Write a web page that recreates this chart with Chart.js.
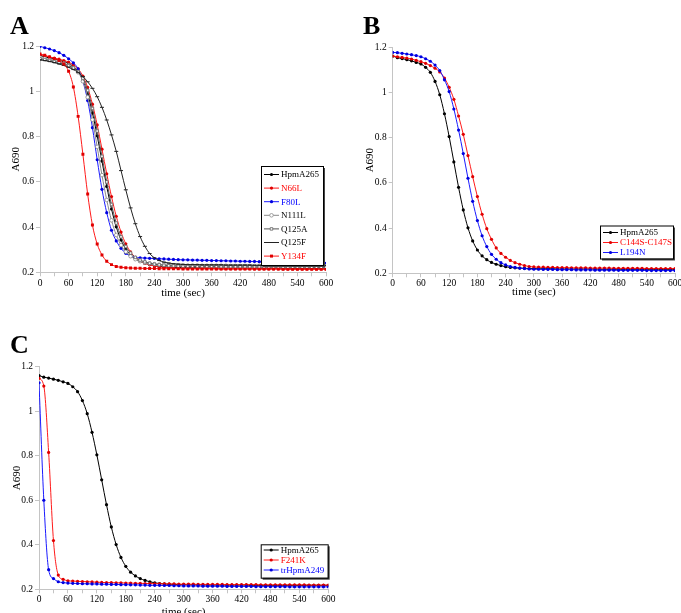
<!DOCTYPE html>
<html><head><meta charset="utf-8">
<script src="https://cdn.jsdelivr.net/npm/chart.js@4.4.1/dist/chart.umd.min.js"></script>
<style>
html,body{margin:0;padding:0;background:#fff;width:681px;height:613px;overflow:hidden;position:relative;}
.panel{position:absolute;}
.letter{position:absolute;font-family:"Liberation Serif","Times New Roman",serif;font-weight:bold;font-size:26px;line-height:26px;color:#000;}
</style></head><body>
<div class="panel" style="left:0;top:0;width:340px;height:300px"><canvas id="cA"></canvas></div>
<div class="panel" style="left:340px;top:0;width:360px;height:300px"><canvas id="cB"></canvas></div>
<div class="panel" style="left:0;top:300px;width:340px;height:330px"><canvas id="cC"></canvas></div>
<div class="letter" style="left:10px;top:13px">A</div>
<div class="letter" style="left:363px;top:13px">B</div>
<div class="letter" style="left:10px;top:332px">C</div>
<script>
const times = [0,10,20,30,40,50,60,70,80,90,100,110,120,130,140,150,160,170,180,190,200,210,220,230,240,250,260,270,280,290,300,310,320,330,340,350,360,370,380,390,400,410,420,430,440,450,460,470,480,490,500,510,520,530,540,550,560,570,580,590,600];
const xTickLabels = [0,60,120,180,240,300,360,420,480,540,600];
const yTickLabels = ['0.2','0.4','0.6','0.8','1','1.2'];

const hpmA265 = [1.160,1.153,1.149,1.144,1.139,1.132,1.125,1.110,1.088,1.048,0.989,0.905,0.804,0.692,0.580,0.480,0.401,0.343,0.303,0.277,0.260,0.248,0.240,0.234,0.229,0.226,0.224,0.223,0.222,0.221,0.221,
 0.220,0.220,0.220,0.220,0.219,0.219,0.219,0.219,0.219,0.219,0.219,0.219,0.219,0.218,0.218,0.218,0.218,0.218,0.218,0.218,0.218,0.218,0.218,0.218,0.218,0.218,0.218,0.218,0.218,0.218];
const n66L = [1.163,1.158,1.153,1.148,1.143,1.137,1.130,1.118,1.100,1.068,1.018,0.944,0.852,0.745,0.636,0.535,0.448,0.378,0.326,0.290,0.266,0.250,0.240,0.233,0.228,0.224,0.222,0.220,0.219,0.218,0.218,
 0.218,0.217,0.217,0.217,0.217,0.217,0.216,0.216,0.216,0.216,0.216,0.216,0.216,0.216,0.215,0.215,0.215,0.215,0.215,0.215,0.215,0.215,0.215,0.215,0.215,0.215,0.215,0.215,0.215,0.215];
const f80L = [1.200,1.194,1.188,1.181,1.172,1.160,1.145,1.127,1.100,1.045,0.960,0.840,0.698,0.567,0.464,0.386,0.339,0.306,0.284,0.272,0.266,0.264,0.263,0.262,0.261,0.260,0.259,0.258,0.257,0.256,0.255,
 0.255,0.254,0.254,0.253,0.253,0.252,0.252,0.251,0.251,0.250,0.250,0.249,0.249,0.248,0.248,0.247,0.247,0.246,0.246,0.245,0.245,0.244,0.244,0.243,0.243,0.242,0.242,0.241,0.241,0.240];
const n111L = [1.150,1.146,1.142,1.137,1.131,1.124,1.116,1.104,1.085,1.045,0.975,0.875,0.755,0.630,0.520,0.430,0.365,0.320,0.291,0.271,0.258,0.249,0.243,0.239,0.236,0.234,0.233,0.232,0.231,0.231,0.230,
 0.230,0.230,0.230,0.229,0.229,0.229,0.229,0.229,0.229,0.228,0.228,0.228,0.228,0.228,0.228,0.228,0.228,0.228,0.228,0.228,0.227,0.227,0.227,0.227,0.227,0.227,0.227,0.227,0.227,0.227];
const q125A = [1.145,1.141,1.137,1.132,1.127,1.121,1.114,1.104,1.088,1.058,1.005,0.925,0.825,0.713,0.600,0.500,0.418,0.357,0.314,0.285,0.266,0.254,0.246,0.240,0.236,0.233,0.231,0.229,0.228,0.227,0.226,
 0.226,0.226,0.225,0.225,0.225,0.225,0.225,0.224,0.224,0.224,0.224,0.224,0.224,0.224,0.223,0.223,0.223,0.223,0.223,0.223,0.223,0.223,0.223,0.223,0.223,0.223,0.222,0.222,0.222,0.222];
const q125F = [1.140,1.137,1.133,1.128,1.122,1.115,1.107,1.097,1.085,1.066,1.043,1.014,0.977,0.930,0.874,0.808,0.735,0.650,0.565,0.485,0.415,0.358,0.315,0.283,0.264,0.252,0.245,0.241,0.238,0.236,0.235,
 0.234,0.234,0.234,0.233,0.233,0.233,0.233,0.233,0.232,0.232,0.232,0.232,0.232,0.232,0.231,0.231,0.231,0.231,0.231,0.231,0.231,0.231,0.231,0.230,0.230,0.230,0.230,0.230,0.230,0.230];
const y134F = [1.166,1.160,1.153,1.146,1.137,1.122,1.090,1.020,0.890,0.722,0.546,0.409,0.325,0.277,0.249,0.234,0.226,0.222,0.220,0.219,0.218,0.218,0.217,0.217,0.217,0.216,0.216,0.216,0.216,0.216,0.215,
 0.215,0.215,0.215,0.215,0.215,0.215,0.215,0.214,0.214,0.214,0.214,0.214,0.214,0.214,0.214,0.214,0.214,0.214,0.214,0.214,0.213,0.213,0.213,0.213,0.213,0.213,0.213,0.213,0.213,0.213];
const c144S_C147S = [1.160,1.157,1.154,1.151,1.147,1.141,1.135,1.128,1.118,1.106,1.090,1.063,1.022,0.969,0.895,0.814,0.720,0.627,0.539,0.461,0.397,0.350,0.312,0.288,0.271,0.257,0.247,0.240,0.234,0.230,0.228,
 0.227,0.227,0.226,0.226,0.225,0.225,0.225,0.224,0.224,0.224,0.224,0.223,0.223,0.223,0.223,0.223,0.222,0.222,0.222,0.222,0.222,0.222,0.222,0.221,0.221,0.221,0.221,0.221,0.221,0.221];
const l194N = [1.176,1.175,1.172,1.169,1.166,1.162,1.157,1.148,1.137,1.120,1.096,1.055,1.003,0.926,0.833,0.729,0.620,0.518,0.433,0.366,0.318,0.284,0.262,0.247,0.237,0.230,0.226,0.223,0.221,0.219,0.218,
 0.218,0.217,0.217,0.217,0.216,0.216,0.216,0.216,0.215,0.215,0.215,0.215,0.214,0.214,0.214,0.214,0.214,0.213,0.213,0.213,0.213,0.213,0.213,0.212,0.212,0.212,0.212,0.212,0.212,0.212];
const f241K = [1.148,1.113,0.815,0.419,0.264,0.245,0.238,0.237,0.236,0.235,0.234,0.233,0.232,0.231,0.230,0.230,0.229,0.229,0.228,0.228,0.227,0.227,0.226,0.226,0.225,0.225,0.224,0.224,0.224,0.223,0.223,
 0.223,0.223,0.222,0.222,0.222,0.222,0.222,0.222,0.221,0.221,0.221,0.221,0.221,0.221,0.221,0.220,0.220,0.220,0.220,0.220,0.220,0.220,0.220,0.220,0.220,0.219,0.219,0.219,0.219,0.219];
const trHpmA249 = [1.128,0.600,0.288,0.248,0.234,0.230,0.228,0.227,0.226,0.225,0.225,0.224,0.224,0.223,0.223,0.222,0.222,0.221,0.221,0.220,0.220,0.219,0.219,0.218,0.218,0.218,0.217,0.217,0.216,0.216,0.215,
 0.215,0.215,0.215,0.214,0.214,0.214,0.214,0.214,0.213,0.213,0.213,0.213,0.213,0.213,0.212,0.212,0.212,0.212,0.212,0.212,0.212,0.211,0.211,0.211,0.211,0.211,0.211,0.211,0.211,0.211];

const SERIF = '"Liberation Serif","Times New Roman",serif';
const AX = '#c4c4c4';
const RED = '#ff1a1a', BLUE = '#1a1aff';

const STY = {
  black: {line:'#000', ps:'circle', r:1.6, pf:'#000', pb:'#000', pbw:0, text:'#000'},
  red:   {line:RED, ps:'circle', r:1.6, pf:'#e00000', pb:'#e00000', pbw:0, text:'#ff0000'},
  blue:  {line:BLUE, ps:'circle', r:1.6, pf:'#0000e0', pb:'#0000e0', pbw:0, text:'#0000ff'},
  grayCirc: {line:'#8a8a8a', ps:'circle', r:1.8, pf:'#fff', pb:'#8a8a8a', pbw:0.8, text:'#000'},
  graySq: {line:'#555', ps:'rect', r:1.8, pf:'#fff', pb:'#666', pbw:0.8, text:'#000'},
  dash:  {line:'#222', ps:'line', r:2, pf:'#222', pb:'#222', pbw:1, text:'#000'},
  redSq: {line:RED, ps:'rect', r:2.1, pf:'#e00000', pb:'#e00000', pbw:0, text:'#ff0000'}
};

function ds(label, vals, st, idx, n){
  return {label, data: vals.map((v,i)=>({x:times[i], y:v})),
    borderColor: st.line, borderWidth: 1, pointStyle: st.ps, pointRadius: st.r,
    pointBackgroundColor: st.pf, pointBorderColor: st.pb, pointBorderWidth: st.pbw,
    textColor: st.text, cubicInterpolationMode:'monotone', fill:false, order: n - idx};
}

const boxLegend = {
  id:'boxLegend',
  afterDatasetsDraw(chart, args, o){
    const ctx = chart.ctx;
    ctx.save();
    ctx.fillStyle = '#444'; ctx.fillRect(o.x+2, o.y+2, o.w, o.h);
    ctx.fillStyle = '#fff'; ctx.fillRect(o.x, o.y, o.w, o.h);
    ctx.strokeStyle = '#000'; ctx.lineWidth = 1; ctx.strokeRect(o.x+0.5, o.y+0.5, o.w, o.h);
    chart.data.datasets.forEach((d,i)=>{
      const yy = o.first + i*o.row;
      ctx.strokeStyle = d.borderColor; ctx.lineWidth = 1;
      ctx.beginPath(); ctx.moveTo(o.x+o.l0, yy); ctx.lineTo(o.x+o.l1, yy); ctx.stroke();
      ctx.fillStyle = d.pointBackgroundColor; ctx.strokeStyle = d.pointBorderColor; ctx.lineWidth = d.pointBorderWidth || 0;
      Chart.helpers.drawPoint(ctx, {pointStyle:d.pointStyle, radius:d.pointRadius, rotation:0, borderWidth:d.pointBorderWidth||0}, o.x+(o.l0+o.l1)/2, yy);
      ctx.fillStyle = d.textColor; ctx.font = o.font; ctx.textBaseline = 'middle'; ctx.textAlign = 'left';
      ctx.fillText(d.label, o.x+o.tx, yy+0.5);
    });
    ctx.restore();
  }
};

function makeChart(id, sets, cfg){
  const n = sets.length;
  const datasets = sets.map((s,i)=>ds(s[0], s[1], s[2], i, n));
  return new Chart(document.getElementById(id), {
    type:'line',
    data:{datasets},
    options:{
      responsive:true, maintainAspectRatio:false, animation:false,
      layout:{padding:cfg.pad},
      plugins:{legend:{display:false}, tooltip:{enabled:false}, boxLegend:cfg.legend},
      scales:{
        x:{type:'linear', min:0, max:600,
          afterFit:s=>{s.height = cfg.xh;},
          afterBuildTicks:s=>{ const t=[]; for(let v=0; v<=600; v+=30) t.push({value:v}); s.ticks=t; },
          ticks:{autoSkip:false, maxRotation:0, padding:cfg.xtp, font:{family:SERIF,size:9.5}, color:'#000',
            callback:v=> xTickLabels.includes(v) ? String(v) : ''},
          grid:{drawOnChartArea:false, drawTicks:true, tickLength:4, color:AX},
          border:{color:AX},
          title:{display:true, text:'time (sec)', font:{family:SERIF,size:11}, color:'#000', padding:{top:0,bottom:cfg.xTitlePad}}},
        y:{min:0.2, max:1.2,
          afterFit:s=>{s.width = cfg.yw;},
          ticks:{stepSize:0.2, padding:2, font:{family:SERIF,size:9.5}, color:'#000',
            callback:(v,i)=> yTickLabels[i] !== undefined ? yTickLabels[i] : ''},
          grid:{drawOnChartArea:false, drawTicks:true, tickLength:4, color:AX},
          border:{color:AX},
          title:{display:true, text:'A690', font:{family:SERIF,size:11}, color:'#000', padding:{top:cfg.yTitlePad,bottom:0}}}
      }
    },
    plugins:[boxLegend]
  });
}

makeChart('cA', [
  ['HpmA265', hpmA265, STY.black],
  ['N66L', n66L, STY.red],
  ['F80L', f80L, STY.blue],
  ['N111L', n111L, STY.grayCirc],
  ['Q125A', q125A, STY.graySq],
  ['Q125F', q125F, STY.dash],
  ['Y134F', y134F, STY.redSq]
], {pad:{left:0, top:46.3, right:14, bottom:0}, yw:40, xh:27.7, xtp:1.5, xTitlePad:0, yTitlePad:10,
    legend:{x:261, y:166, w:62, h:99, first:174.5, row:13.6, l0:3, l1:18, tx:20, font:'9px '+SERIF}});

makeChart('cB', [
  ['HpmA265', hpmA265, STY.black],
  ['C144S-C147S', c144S_C147S, STY.red],
  ['L194N', l194N, STY.blue]
], {pad:{left:0, top:47, right:25, bottom:0}, yw:52.7, xh:26.7, xtp:0.5, xTitlePad:1.5, yTitlePad:23.4,
    legend:{x:260, y:225.5, w:73, h:33, first:232.5, row:10, l0:3, l1:18, tx:20, font:'9px '+SERIF}});

makeChart('cC', [
  ['HpmA265', hpmA265, STY.black],
  ['F241K', f241K, STY.red],
  ['trHpmA249', trHpmA249, STY.blue]
], {pad:{left:0, top:66.7, right:11.7, bottom:11.7}, yw:39, xh:29, xtp:0.5, xTitlePad:0, yTitlePad:10.4,
    legend:{x:260.7, y:244.3, w:67, h:33.4, first:250, row:10, l0:3, l1:18, tx:20, font:'9px '+SERIF}});
</script>
</body></html>
